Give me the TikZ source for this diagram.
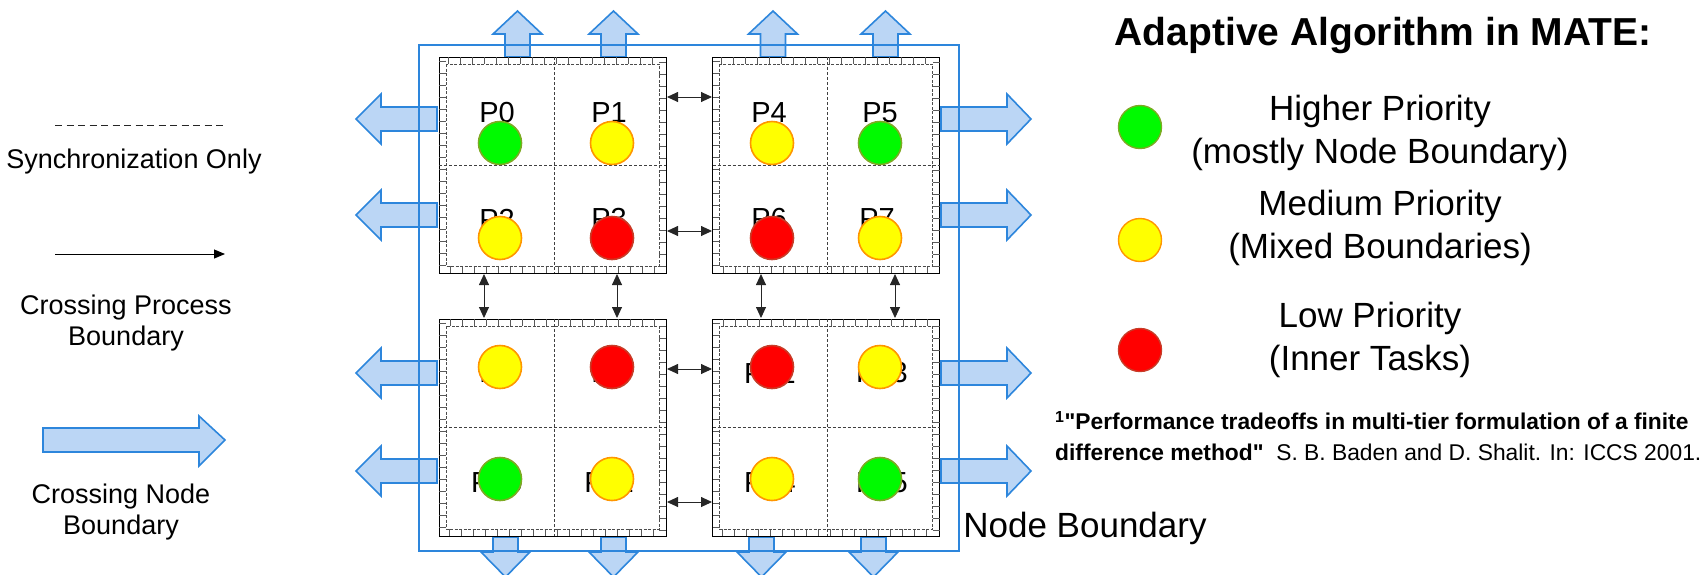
\documentclass[tikz,border=0pt]{standalone}
\usepackage{fontspec}
\setmainfont{Liberation Sans}
% a family without TeX ligature mapping, for straight quotation marks
\newfontfamily\rawfont{Liberation Sans}
\usetikzlibrary{arrows.meta,shapes.geometric}

\definecolor{nodeblue}{RGB}{45,134,220}
\definecolor{arrowfill}{RGB}{187,214,245}
\definecolor{hifill}{RGB}{0,250,0}
\definecolor{hidraw}{RGB}{125,170,35}
\definecolor{midfill}{RGB}{255,255,0}
\definecolor{middraw}{RGB}{255,150,0}
\definecolor{lofill}{RGB}{255,0,0}
\definecolor{lodraw}{RGB}{200,60,40}

\begin{document}
\begin{tikzpicture}[x=1pt,y=-1pt,
  lbl/.style={font=\fontsize{29}{29}\selectfont, inner sep=0pt},
  legtxt/.style={font=\fontsize{27}{31}\selectfont, align=center, inner sep=0pt},
  prio/.style={font=\fontsize{35}{43}\selectfont, inner sep=0pt, anchor=base},
  blockbox/.style={draw=black, line width=0.9pt, minimum width=227pt, minimum height=216pt, inner sep=0pt, outer sep=0pt},
  brick/.style={draw=black!65, line width=7pt, dash pattern=on 0.7pt off 11.3pt},
  strip/.style={draw=black!70, line width=0.6pt, dash pattern=on 3pt off 1.5pt},
  celldiv/.style={draw=black!75, line width=0.7pt, dash pattern=on 3pt off 2pt},
  fatarrow/.style={draw=nodeblue, fill=arrowfill, line width=1.6pt, line join=miter},
  nodeframe/.style={draw=nodeblue, line width=2pt},
  sync/.style={draw=black!85, line width=0.9pt, {Triangle[length=11pt,width=10pt]}-{Triangle[length=11pt,width=10pt]}},
  dot/.style={circle, minimum size=43pt, inner sep=0pt, line width=1.6pt},
  hi/.style={dot, fill=hifill, draw=hidraw},
  mid/.style={dot, fill=midfill, draw=middraw},
  lo/.style={dot, fill=lofill, draw=lodraw},
  legdot/.style={circle, minimum size=43pt, inner sep=0pt, line width=1.4pt}
]
\useasboundingbox (0,0) rectangle (1700,574);

% ---- node-crossing exchanges (fat blue arrows) ----
\foreach \yc in {119,215,373,471} {
  \draw[fatarrow] (437,\yc-12) -- (381,\yc-12) -- (381,\yc-25) -- (356,\yc)
    -- (381,\yc+25) -- (381,\yc+12) -- (437,\yc+12) -- cycle;
  \draw[fatarrow] (941,\yc-12) -- (1007,\yc-12) -- (1007,\yc-25) -- (1031,\yc)
    -- (1007,\yc+25) -- (1007,\yc+12) -- (941,\yc+12) -- cycle;
}
\foreach \xc in {517.5,613.5,773,885.5} {
  \draw[fatarrow] (\xc-12.5,57) -- (\xc-12.5,34) -- (\xc-24.5,34) -- (\xc,11)
    -- (\xc+24.5,34) -- (\xc+12.5,34) -- (\xc+12.5,57) -- cycle;
}
\foreach \xc in {505.5,613.5,761.5,873.5} {
  \draw[fatarrow] (\xc-12.5,537) -- (\xc-12.5,552) -- (\xc-24.5,552) -- (\xc,577)
    -- (\xc+24.5,552) -- (\xc+12.5,552) -- (\xc+12.5,537) -- cycle;
}

% ---- node boundary ----
\draw[nodeframe] (419,45) rectangle (959,551);

% ---- process blocks with halo strips ----
\node[blockbox] (B1) at (552.5,165) {};
\node[blockbox] (B2) at (826,165) {};
\node[blockbox, minimum height=217pt] (B3) at (552.5,427.5) {};
\node[blockbox, minimum height=217pt] (B4) at (826,427.5) {};
\foreach \b in {B1,B2,B3,B4} {
  \draw[brick] ([shift={(3.5,3.5)}]\b.north west) rectangle ([shift={(-3.5,-3.5)}]\b.south east);
  \draw[strip] ([shift={(7,7)}]\b.north west) rectangle ([shift={(-7,-7)}]\b.south east);
  \draw[celldiv] ([xshift=1.5pt]\b.north) -- ([xshift=1.5pt]\b.south);
  \draw[celldiv] (\b.west) -- (\b.east);
}

% ---- process labels ----
\node[lbl] (L0) at (497,113) {P0};
\node[lbl] (L1) at (609,113) {P1};
\node[lbl] (L4) at (769,113) {P4};
\node[lbl] (L5) at (880,113) {P5};
\node[lbl] (L2) at (497,219) {P2};
\node[lbl] (L3) at (609,219) {P3};
\node[lbl] (L6) at (769,219) {P6};
\node[lbl] (L7) at (877,219) {P7};
\node[lbl] (L8) at (497,373) {P8};
\node[lbl] (L9) at (609,373) {P9};
\node[lbl] (L12) at (770,373) {P12};
\node[lbl] (L13) at (882,373) {P13};
\node[lbl] (L10) at (497,483) {P10};
\node[lbl] (L11) at (609,483) {P11};
\node[lbl] (L14) at (770,483) {P14};
\node[lbl] (L15) at (882,483) {P15};

% ---- task priorities ----
\node[hi]  (T0)  at (500,143) {};
\node[mid] (T1)  at (612,143) {};
\node[mid] (T4)  at (772,143) {};
\node[hi]  (T5)  at (880,143) {};
\node[mid] (T2)  at (500,238) {};
\node[lo]  (T3)  at (612,238) {};
\node[lo]  (T6)  at (772,238) {};
\node[mid] (T7)  at (880,238) {};
\node[mid] (T8)  at (500,367) {};
\node[lo]  (T9)  at (612,367) {};
\node[lo]  (T12) at (772,367) {};
\node[mid] (T13) at (880,367) {};
\node[hi]  (T10) at (500,479) {};
\node[mid] (T11) at (612,479) {};
\node[mid] (T14) at (772,479) {};
\node[hi]  (T15) at (880,479) {};

% ---- process-boundary exchanges ----
\foreach \i/\yy in {1/97,2/231,3/369,4/502} {
  \coordinate (hw\i) at (667,\yy);
  \coordinate (he\i) at (712,\yy);
  \draw[sync] (hw\i) -- (he\i);
}
\foreach \i/\xx in {1/484,2/617,3/761,4/895} {
  \coordinate (vn\i) at (\xx,274);
  \coordinate (vs\i) at (\xx,318);
  \draw[sync] (vn\i) -- (vs\i);
}

\node[font=\fontsize{35}{35}\selectfont, inner sep=0pt] (nb) at (1085,528) {Node Boundary};

% ---- left legend ----
\coordinate (sa) at (55,125);
\coordinate (sb) at (225,125);
\draw[draw=black!85, line width=1pt, dash pattern=on 7pt off 4.5pt] (sa) -- (sb);
\node[legtxt] (syncTxt) at (134,162) {Synchronization Only};
\coordinate (pa) at (55,254);
\coordinate (pb) at (225,254);
\draw[draw=black, line width=1pt, -{Triangle[length=11pt,width=9pt]}] (pa) -- (pb);
\node[legtxt] (procTxt) at (126,323) {Crossing Process\\Boundary};
\draw[fatarrow] (43,428) -- (199,428) -- (199,416) -- (225,440) -- (199,466) -- (199,452) -- (43,452) -- cycle;
\node[legtxt] (nodeTxt) at (121,512) {Crossing Node\\Boundary};

% ---- priority legend ----
\node[font=\bfseries\fontsize{39}{39}\selectfont, inner sep=0pt, anchor=base] (title) at (1383,45) {Adaptive Algorithm in MATE:};
\node[legdot, fill=hifill, draw=hidraw] (gHi) at (1140,127) {};
\node[legdot, fill=midfill, draw=middraw] (gMid) at (1140,240) {};
\node[legdot, fill=lofill, draw=lodraw] (gLo) at (1140,350) {};
\node[prio] (tHi1) at (1380,120) {Higher Priority};
\node[prio] (tHi2) at (1380,163) {(mostly Node Boundary)};
\node[prio] (tMid1) at (1380,215) {Medium Priority};
\node[prio] (tMid2) at (1380,258) {(Mixed Boundaries)};
\node[prio] (tLo1) at (1370,327) {Low Priority};
\node[prio] (tLo2) at (1370,370) {(Inner Tasks)};

\node[anchor=west, align=left, inner sep=0pt, font=\fontsize{22.8}{31}\selectfont] (ref) at (1055,436)
  {\textbf{\textsuperscript{1}{\rawfont "}Performance tradeoffs in multi-tier formulation of a finite}\\
   \textbf{difference method{\rawfont "}}\ \ S. B. Baden and D. Shalit. In: ICCS 2001.};
\end{tikzpicture}
\end{document}
